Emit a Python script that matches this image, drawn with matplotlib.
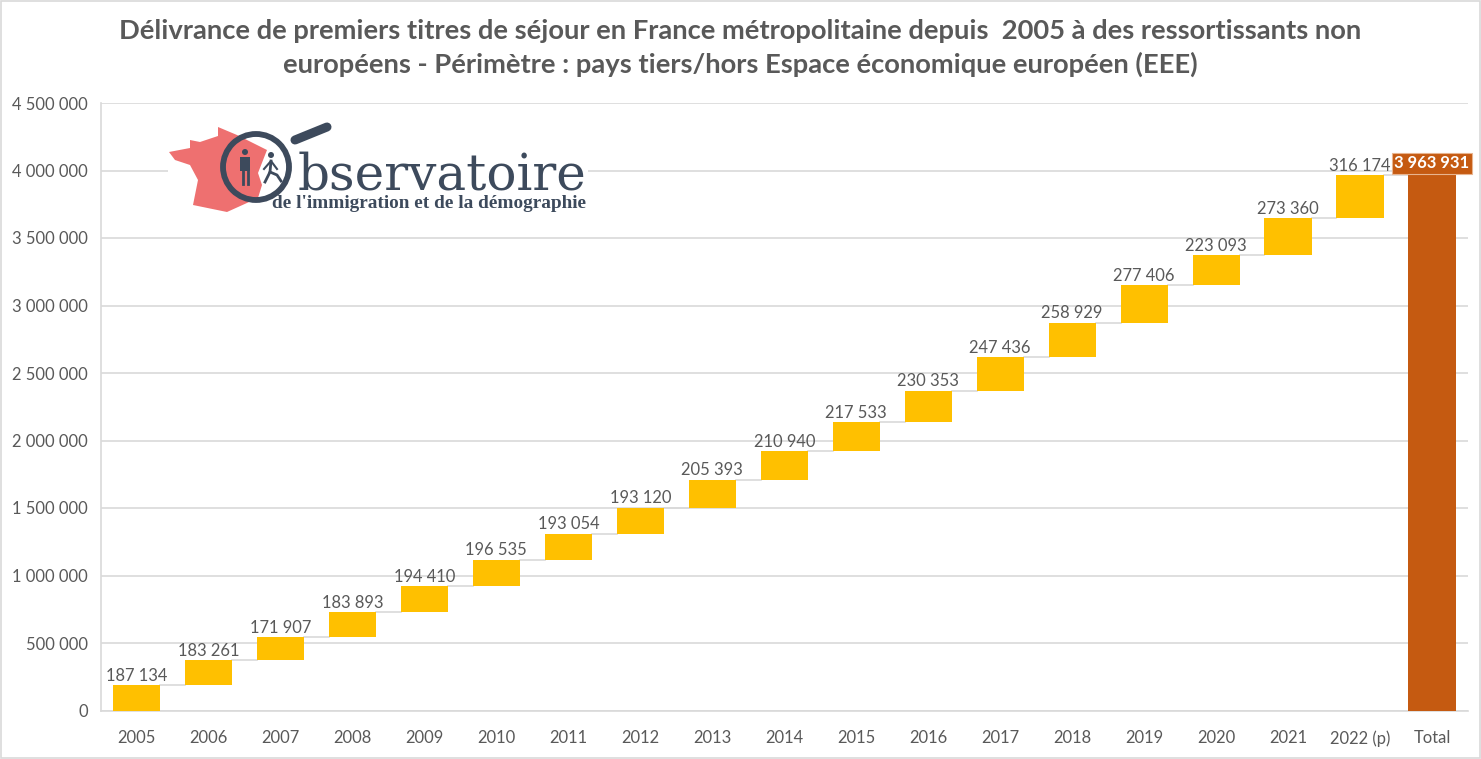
import numpy as np
import matplotlib
matplotlib.use("Agg")
import matplotlib.pyplot as plt
from matplotlib.patches import Polygon, Circle, Rectangle

W, H = 1481, 759

years = ["2005", "2006", "2007", "2008", "2009", "2010", "2011", "2012", "2013",
         "2014", "2015", "2016", "2017", "2018", "2019", "2020", "2021", "2022 (p)"]
values = [187134, 183261, 171907, 183893, 194410, 196535, 193054, 193120, 205393,
          210940, 217533, 230353, 247436, 258929, 277406, 223093, 273360, 316174]
total_label = "Total"
total_value = 3963931
yticks = [0, 500000, 1000000, 1500000, 2000000, 2500000, 3000000, 3500000, 4000000, 4500000]

title = ("Délivrance de premiers titres de séjour en France métropolitaine depuis  2005 à des ressortissants non\n"
         "européens - Périmètre : pays tiers/hors Espace économique européen (EEE)")

GREY = "#595959"
GRID = "#D9D9D9"
YELLOW = "#FFC000"
ORANGE = "#C55A11"
LOGO = "#3D4A5C"
RED = "#EE7070"


def fmt(v):
    return f"{v:,}".replace(",", " ")


plt.rcParams["font.family"] = ["Lato", "DejaVu Sans"]
fig = plt.figure(figsize=(W / 100, H / 100), dpi=100)

ax = fig.add_axes([100.5 / W, 1 - 710.5 / H, 1367.5 / W, 607.5 / H])
ax.set_xlim(-0.5, len(years) + 0.5)
ax.set_ylim(0, 4500000)
ax.set_axisbelow(True)
ax.grid(axis="y", color=GRID, lw=1.2)
for s in ["top", "right"]:
    ax.spines[s].set_visible(False)
for s in ["left", "bottom"]:
    ax.spines[s].set_color(GRID)
    ax.spines[s].set_linewidth(1.2)
ax.tick_params(length=0, labelsize=11.9, labelcolor=GREY)
ax.tick_params(axis="x", pad=14)
ax.tick_params(axis="y", pad=9)

ax.set_yticks(yticks)
ax.set_yticklabels([fmt(v) for v in yticks])
ax.set_xticks(range(len(years) + 1))
ax.set_xticklabels(years + [total_label])

# waterfall
bottoms = np.concatenate([[0], np.cumsum(values)[:-1]])
tops = bottoms + np.array(values)
bar_w = 0.655
ax.bar(range(len(years)), values, bottom=bottoms, width=bar_w, color=YELLOW, zorder=3)
ax.bar(len(years), total_value, width=bar_w, color=ORANGE, zorder=3)

for i, top in enumerate(tops):
    ax.plot([i + bar_w / 2, i + 1 - bar_w / 2], [top, top], color=GRID, lw=1.2, zorder=2)
    ax.annotate(fmt(values[i]), (i, top), xytext=(0, 1), textcoords="offset points",
                ha="center", va="bottom", fontsize=11.9, color=GREY, zorder=4)

ax.annotate(fmt(total_value), (len(years), total_value), xytext=(0, 8.6),
            textcoords="offset points", ha="center", va="center", fontsize=11.9,
            fontweight="bold", color="white", zorder=5,
            bbox=dict(boxstyle="square,pad=0.16", fc=ORANGE, ec="#E8B48F", lw=0.8))

fig.text(740 / W, 1 - 48 / H, title, ha="center", va="center", fontsize=19.7,
         fontweight="bold", color=GREY, linespacing=1.42)

# logo, drawn in pixel coordinates over the chart
lg = fig.add_axes([0, 0, 1, 1], facecolor="none")
lg.set_xlim(0, W)
lg.set_ylim(H, 0)
lg.axis("off")

lg.add_patch(Rectangle((168, 125), 420, 90, fc="white", ec="none", zorder=1))
france = [(169, 152), (190, 148), (190, 140), (200, 142), (218, 136), (218, 127), (237, 135),
          (267, 150), (258, 173), (262, 185), (258, 198), (227, 212), (193, 205), (198, 180),
          (190, 165), (175, 160)]
lg.add_patch(Polygon(france, closed=True, fc=RED, ec="none", zorder=2))
lg.add_patch(Circle((256, 167), 33, fc="none", ec=LOGO, lw=4.2, zorder=3))
lg.plot([295, 327], [140, 127], color=LOGO, lw=6.5, solid_capstyle="round", zorder=3)
# man
lg.add_patch(Circle((245, 152), 3, fc=LOGO, ec="none", zorder=4))
lg.add_patch(Rectangle((240, 157), 10, 14, fc=LOGO, ec="none", zorder=4))
lg.plot([243, 243], [170, 184], color=LOGO, lw=2, zorder=4)
lg.plot([248, 248], [170, 184], color=LOGO, lw=2, zorder=4)
# walker
lg.add_patch(Circle((271, 155), 3, fc=LOGO, ec="none", zorder=4))
lg.plot([271, 270, 265], [161, 172, 182], color=LOGO, lw=2, zorder=4)
lg.plot([270, 277, 281], [172, 175, 181], color=LOGO, lw=2, zorder=4)
lg.plot([264, 271, 277], [169, 161, 169], color=LOGO, lw=1.5, zorder=4)

lg.text(298, 190, "bservatoire", family="DejaVu Serif", fontsize=36, color=LOGO,
        ha="left", va="baseline", zorder=5)
lg.text(272, 208, "de l'immigration et de la démographie", family="Liberation Serif",
        fontsize=13.9, fontweight="bold", color=LOGO, ha="left", va="baseline", zorder=5)

# outer frame
lg.add_patch(Rectangle((0.8, 0.8), W - 1.6, H - 2.2, fc="none", ec=GRID, lw=1.2, zorder=0))

fig.savefig("out.png", dpi=100, facecolor="white")
